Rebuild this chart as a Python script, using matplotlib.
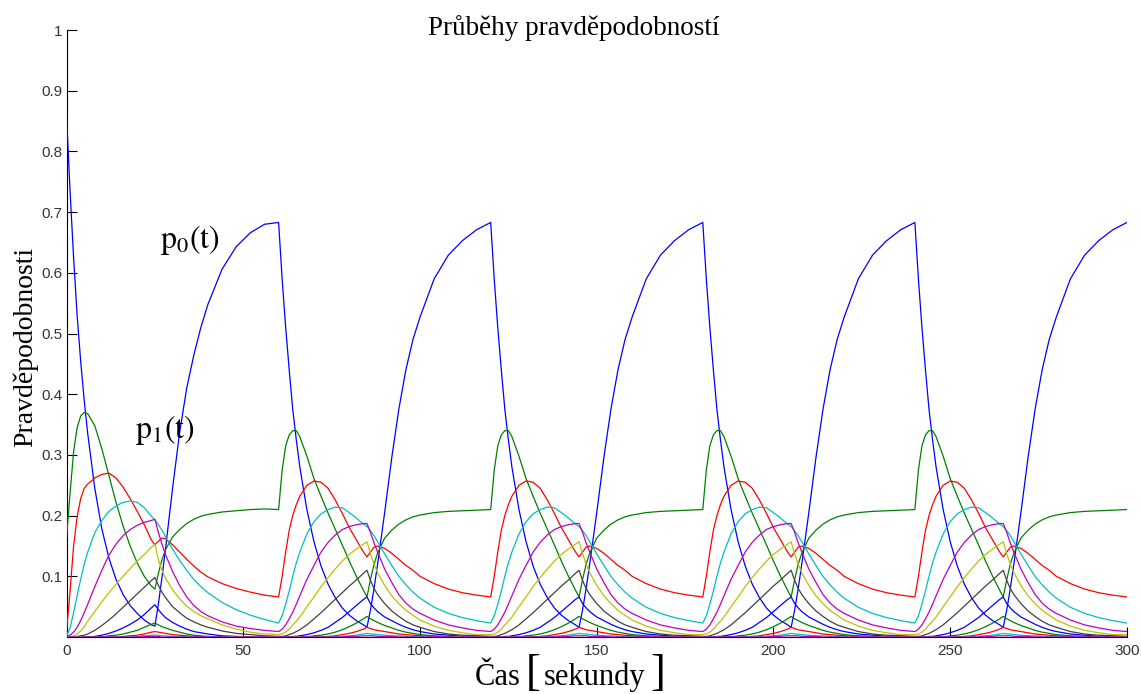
import matplotlib.pyplot as plt
import numpy as np
from matplotlib.offsetbox import TextArea, HPacker, AnchoredOffsetbox

plt.rcParams['mathtext.fontset'] = 'stix'

# sampling instants inside one 60 s period (arrivals only 0-25 s, service 25-60 s)
t_offsets = [0, 1, 2, 3, 4, 5, 6, 8, 10, 12, 14, 16, 18, 20, 22, 24, 25,
             26, 27, 28, 30, 32, 34, 36, 38, 40, 44, 48, 52, 56]
period = 60
n_periods = 5

# state probabilities p_k(t): first period and the repeating period
p0_first = [0.86, 0.735, 0.625, 0.53, 0.455, 0.39, 0.335, 0.245, 0.178, 0.13, 0.095, 0.07, 0.052, 0.039, 0.028,
            0.02, 0.018, 0.055, 0.098, 0.145, 0.245, 0.337, 0.41, 0.464, 0.51, 0.548, 0.606, 0.643, 0.666, 0.68]
p0_cycle = [0.683, 0.59, 0.51, 0.44, 0.375, 0.325, 0.28, 0.21, 0.157, 0.117, 0.087, 0.065, 0.048, 0.036, 0.027,
            0.02, 0.016, 0.045, 0.08, 0.12, 0.205, 0.295, 0.375, 0.44, 0.49, 0.527, 0.59, 0.629, 0.653, 0.671]

p1_first = [0.163, 0.237, 0.305, 0.345, 0.364, 0.37, 0.368, 0.348, 0.31, 0.266, 0.222, 0.183, 0.15, 0.122, 0.1,
            0.084, 0.079, 0.105, 0.127, 0.144, 0.165, 0.177, 0.187, 0.194, 0.199, 0.202, 0.206, 0.208, 0.21, 0.211]
p1_cycle = [0.21, 0.275, 0.315, 0.333, 0.34, 0.34, 0.33, 0.298, 0.261, 0.232, 0.204, 0.178, 0.152, 0.125, 0.1,
            0.077, 0.066, 0.095, 0.12, 0.138, 0.163, 0.176, 0.186, 0.193, 0.198, 0.201, 0.205, 0.207, 0.208, 0.209]

p2_first = [0.01, 0.075, 0.15, 0.198, 0.228, 0.245, 0.252, 0.262, 0.268, 0.27, 0.262, 0.247, 0.228, 0.207, 0.185,
            0.16, 0.152, 0.158, 0.163, 0.162, 0.152, 0.14, 0.128, 0.117, 0.107, 0.099, 0.088, 0.08, 0.074, 0.069]
p2_cycle = [0.066, 0.1, 0.14, 0.176, 0.2, 0.218, 0.232, 0.25, 0.257, 0.255, 0.245, 0.226, 0.204, 0.18, 0.16,
            0.14, 0.132, 0.14, 0.148, 0.15, 0.146, 0.138, 0.128, 0.118, 0.11, 0.1, 0.088, 0.079, 0.073, 0.069]

p3_first = [0.002, 0.015, 0.04, 0.068, 0.095, 0.12, 0.14, 0.172, 0.192, 0.207, 0.216, 0.222, 0.224, 0.222, 0.213,
            0.199, 0.193, 0.185, 0.176, 0.165, 0.145, 0.126, 0.11, 0.095, 0.083, 0.073, 0.057, 0.045, 0.036, 0.029]
p3_cycle = [0.023, 0.035, 0.054, 0.076, 0.1, 0.122, 0.14, 0.17, 0.19, 0.203, 0.21, 0.214, 0.213, 0.205, 0.196,
            0.186, 0.182, 0.175, 0.167, 0.157, 0.137, 0.118, 0.1, 0.086, 0.074, 0.064, 0.049, 0.039, 0.032, 0.027]

p4_first = [0.0, 0.003, 0.008, 0.016, 0.027, 0.04, 0.054, 0.083, 0.11, 0.135, 0.153, 0.167, 0.177, 0.184, 0.189,
            0.192, 0.194, 0.172, 0.153, 0.136, 0.108, 0.085, 0.066, 0.052, 0.042, 0.035, 0.025, 0.018, 0.014, 0.011]
p4_cycle = [0.009, 0.013, 0.02, 0.03, 0.041, 0.054, 0.068, 0.095, 0.118, 0.14, 0.156, 0.168, 0.177, 0.182, 0.185,
            0.187, 0.187, 0.172, 0.155, 0.14, 0.112, 0.09, 0.07, 0.056, 0.046, 0.039, 0.028, 0.02, 0.015, 0.011]

p5_first = [0.0, 0.0, 0.002, 0.005, 0.01, 0.017, 0.026, 0.042, 0.058, 0.073, 0.087, 0.1, 0.113, 0.125, 0.136,
            0.148, 0.153, 0.127, 0.11, 0.097, 0.078, 0.063, 0.051, 0.042, 0.035, 0.03, 0.02, 0.013, 0.008, 0.005]
p5_cycle = [0.004, 0.005, 0.008, 0.013, 0.02, 0.026, 0.033, 0.05, 0.066, 0.083, 0.098, 0.112, 0.125, 0.136, 0.145,
            0.153, 0.157, 0.137, 0.12, 0.106, 0.085, 0.068, 0.055, 0.044, 0.036, 0.028, 0.018, 0.011, 0.007, 0.004]

p6_first = [0.0, 0.0, 0.0, 0.001, 0.002, 0.003, 0.005, 0.011, 0.019, 0.028, 0.038, 0.049, 0.06, 0.071, 0.082,
            0.093, 0.098, 0.085, 0.074, 0.065, 0.05, 0.04, 0.031, 0.025, 0.02, 0.016, 0.01, 0.006, 0.004, 0.002]
p6_cycle = [0.001, 0.001, 0.002, 0.004, 0.006, 0.009, 0.012, 0.02, 0.03, 0.04, 0.051, 0.062, 0.073, 0.084, 0.094,
            0.105, 0.11, 0.093, 0.08, 0.07, 0.055, 0.043, 0.034, 0.026, 0.02, 0.016, 0.009, 0.005, 0.003, 0.002]

p7_first = [0.0, 0.0, 0.0, 0.0, 0.0, 0.0, 0.0, 0.001, 0.003, 0.006, 0.01, 0.015, 0.021, 0.028, 0.037,
            0.048, 0.053, 0.045, 0.038, 0.032, 0.024, 0.018, 0.013, 0.009, 0.007, 0.005, 0.002, 0.001, 0.0, 0.0]
p7_cycle = [0.0, 0.0, 0.0, 0.0, 0.001, 0.001, 0.002, 0.004, 0.007, 0.011, 0.016, 0.024, 0.032, 0.042, 0.052,
            0.062, 0.066, 0.055, 0.048, 0.042, 0.033, 0.027, 0.021, 0.016, 0.012, 0.009, 0.005, 0.003, 0.001, 0.001]

p8_first = [0.0, 0.0, 0.0, 0.0, 0.0, 0.0, 0.0, 0.0, 0.0, 0.002, 0.003, 0.005, 0.008, 0.011, 0.016,
            0.021, 0.023, 0.02, 0.017, 0.015, 0.011, 0.008, 0.005, 0.003, 0.002, 0.001, 0.0, 0.0, 0.0, 0.0]
p8_cycle = [0.0, 0.0, 0.0, 0.0, 0.0, 0.0, 0.0, 0.0, 0.002, 0.003, 0.005, 0.008, 0.012, 0.017, 0.023,
            0.03, 0.034, 0.03, 0.027, 0.024, 0.019, 0.015, 0.011, 0.008, 0.006, 0.004, 0.002, 0.001, 0.0, 0.0]

p9_first = [0.0, 0.0, 0.0, 0.0, 0.0, 0.0, 0.0, 0.0, 0.0, 0.0, 0.0, 0.001, 0.002, 0.003, 0.005,
            0.008, 0.009, 0.008, 0.007, 0.006, 0.004, 0.003, 0.002, 0.001, 0.001, 0.0, 0.0, 0.0, 0.0, 0.0]
p9_cycle = [0.0, 0.0, 0.0, 0.0, 0.0, 0.0, 0.0, 0.0, 0.0, 0.0, 0.001, 0.002, 0.004, 0.006, 0.009,
            0.013, 0.016, 0.014, 0.012, 0.011, 0.009, 0.007, 0.005, 0.004, 0.003, 0.002, 0.001, 0.0, 0.0, 0.0]

p10_first = [0.0, 0.0, 0.0, 0.0, 0.0, 0.0, 0.0, 0.0, 0.0, 0.0, 0.0, 0.0, 0.0, 0.001, 0.002,
             0.003, 0.003, 0.003, 0.002, 0.002, 0.001, 0.001, 0.0, 0.0, 0.0, 0.0, 0.0, 0.0, 0.0, 0.0]
p10_cycle = [0.0, 0.0, 0.0, 0.0, 0.0, 0.0, 0.0, 0.0, 0.0, 0.0, 0.0, 0.0, 0.001, 0.002, 0.003,
             0.005, 0.006, 0.005, 0.005, 0.004, 0.003, 0.002, 0.002, 0.001, 0.001, 0.0, 0.0, 0.0, 0.0, 0.0]

p11_first = [0.0, 0.0, 0.0, 0.0, 0.0, 0.0, 0.0, 0.0, 0.0, 0.0, 0.0, 0.0, 0.0, 0.0, 0.001,
             0.001, 0.001, 0.001, 0.0, 0.0, 0.0, 0.0, 0.0, 0.0, 0.0, 0.0, 0.0, 0.0, 0.0, 0.0]
p11_cycle = [0.0, 0.0, 0.0, 0.0, 0.0, 0.0, 0.0, 0.0, 0.0, 0.0, 0.0, 0.0, 0.0, 0.001, 0.001,
             0.002, 0.002, 0.002, 0.002, 0.001, 0.001, 0.001, 0.0, 0.0, 0.0, 0.0, 0.0, 0.0, 0.0, 0.0]

first = [p0_first, p1_first, p2_first, p3_first, p4_first, p5_first,
         p6_first, p7_first, p8_first, p9_first, p10_first, p11_first]
cycle = [p0_cycle, p1_cycle, p2_cycle, p3_cycle, p4_cycle, p5_cycle,
         p6_cycle, p7_cycle, p8_cycle, p9_cycle, p10_cycle, p11_cycle]

# MATLAB default line colour order b, g, r, c, m, y, k
line_colors = [(0, 0, 1), (0, 0.5, 0), (1, 0, 0), (0, 0.75, 0.75),
               (0.75, 0, 0.75), (0.75, 0.75, 0), (0.25, 0.25, 0.25)]

t = np.concatenate([np.array(t_offsets) + period * k for k in range(n_periods)]
                   + [[period * n_periods]])

fig = plt.figure(figsize=(11.41, 6.94), dpi=100)
ax = fig.add_axes([0.0583, 0.0821, 0.9294, 0.8746])

for i in range(len(first)):
    y = np.concatenate([first[i]] + [cycle[i]] * (n_periods - 1) + [[cycle[i][0]]])
    ax.plot(t, y, color=line_colors[i % 7], lw=0.9)

ax.set_xlim(0, 300)
ax.set_ylim(0, 1)
ax.set_xticks(np.arange(0, 301, 50))
ax.set_yticks(np.arange(0.1, 1.01, 0.1))
ax.set_yticklabels(['0.1', '0.2', '0.3', '0.4', '0.5', '0.6', '0.7', '0.8', '0.9', '1'])

for side in ['top', 'right']:
    ax.spines[side].set_visible(False)
for side in ['left', 'bottom']:
    ax.spines[side].set_zorder(0.5)
    ax.spines[side].set_linewidth(0.8)

ax.tick_params(direction='in', length=7, width=0.8, labelsize=11, labelcolor='#333333')
ax.tick_params(axis='y', pad=3)
ax.tick_params(axis='x', pad=5)
for lab in ax.get_xticklabels() + ax.get_yticklabels():
    lab.set_family('Liberation Sans')

serif = 'Liberation Serif'
fig.text(574 / 1141, 1 - 35 / 694, 'Průběhy pravděpodobností', ha='center', va='baseline',
         family=serif, size=19.5)
fig.text(25 / 1141, 1 - 347 / 694, 'Pravděpodobnosti', rotation=90, ha='center', va='center',
         family=serif, size=20)

# x label with tall brackets around the unit
word = dict(family=serif, size=22)
brk = dict(family=serif, size=32)
xlabel = HPacker(children=[TextArea('Čas', textprops=word),
                           TextArea('[', textprops=brk),
                           TextArea('sekundy', textprops=word),
                           TextArea(']', textprops=brk)],
                 align='baseline', pad=0, sep=3)
fig.add_artist(AnchoredOffsetbox(loc='center', child=xlabel, frameon=False, pad=0, borderpad=0,
                                 bbox_to_anchor=(570 / 1141, 1 - 674 / 694),
                                 bbox_transform=fig.transFigure))

ax.text(26.5, 0.654, r'$\mathrm{p}_{0}\left(\mathrm{t}\right)$', ha='left', va='center', size=23)
ax.text(19.4, 0.341, r'$\mathrm{p}_{1}\left(\mathrm{t}\right)$', ha='left', va='center', size=23)

fig.savefig('out.png', dpi=100)
